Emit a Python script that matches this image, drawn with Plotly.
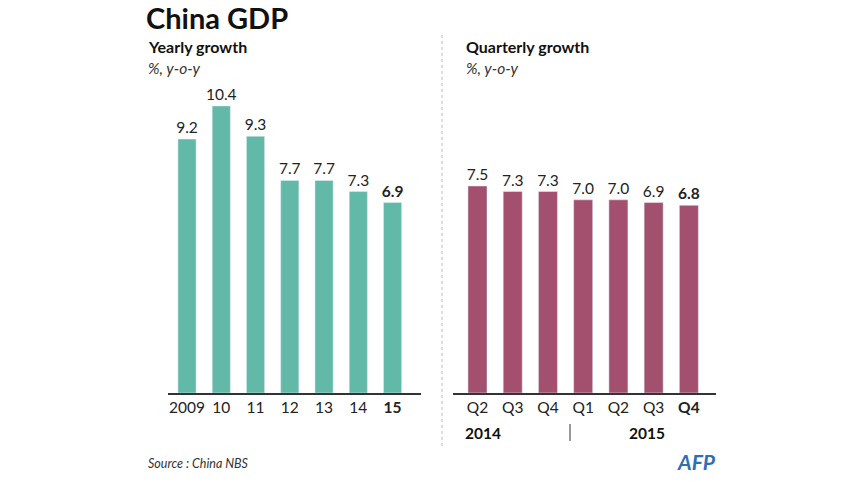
import plotly.graph_objects as go

W, H = 857, 482

years = ["2009", "10", "11", "12", "13", "14", "15"]
yearly = [9.2, 10.4, 9.3, 7.7, 7.7, 7.3, 6.9]
quarters = ["Q2", "Q3", "Q4", "Q1", "Q2", "Q3", "Q4"]
quarterly = [7.5, 7.3, 7.3, 7.0, 7.0, 6.9, 6.8]
year_groups = ["2014", "2015"]

TEAL = "#63b9a7"
MAROON = "#a3506f"
FONT = "Lato"

def px(x):
    return x / W

def py(y):
    return 1 - y / H

def bold_last(labels):
    return [f"<b>{s}</b>" if i == len(labels) - 1 else s for i, s in enumerate(labels)]

def fmt(vals):
    return bold_last([f"{v:.1f}" for v in vals])

xs = list(range(len(years)))

fig = go.Figure()
fig.add_trace(go.Bar(
    x=xs, y=yearly, marker_color=TEAL, width=0.53,
    text=fmt(yearly), textposition="outside", cliponaxis=False, constraintext="none",
    textfont=dict(family=FONT, size=15.5, color="#222"),
    xaxis="x", yaxis="y", showlegend=False, hoverinfo="skip",
))
fig.add_trace(go.Bar(
    x=xs, y=quarterly, marker_color=MAROON, width=0.54,
    text=fmt(quarterly), textposition="outside", cliponaxis=False, constraintext="none",
    textfont=dict(family=FONT, size=15.5, color="#222"),
    xaxis="x2", yaxis="y2", showlegend=False, hoverinfo="skip",
))

ybase, ytop = 393, 60
yr = [0, (ybase - ytop) / 27.6]

axis_common = dict(
    showgrid=False, zeroline=False, showline=True, linecolor="#333", linewidth=1.5,
    ticks="", tickfont=dict(family=FONT, size=15.5, color="#222"),
)

fig.update_layout(
    width=W, height=H,
    margin=dict(l=0, r=0, t=0, b=0),
    paper_bgcolor="white", plot_bgcolor="white",
    bargap=0,
    xaxis=dict(domain=[px(168), px(421)], range=[-0.555, 6.83],
               tickvals=xs, ticktext=bold_last(years), anchor="y", **axis_common),
    yaxis=dict(domain=[py(ybase), py(ytop)], range=yr, visible=False, anchor="x"),
    xaxis2=dict(domain=[px(453), px(716)], range=[-0.695, 6.77],
                tickvals=xs, ticktext=bold_last(quarters), anchor="y2", **axis_common),
    yaxis2=dict(domain=[py(ybase), py(ytop)], range=yr, visible=False, anchor="x2"),
)

ann = []
def text(x, y, s, size, **kw):
    ann.append(dict(x=px(x), y=py(y), xref="paper", yref="paper", text=s, showarrow=False,
                    xanchor=kw.pop("xanchor", "left"), yanchor=kw.pop("yanchor", "middle"),
                    font=dict(family=FONT, size=size, color=kw.pop("color", "#111")), **kw))

text(145, 18, "<b>China GDP</b>", 29, borderpad=0)
text(146, 46, "<b>Yearly growth</b>", 16)
text(146, 68, "<i>%, y-o-y</i>", 15.5, color="#333")
text(464, 46, "<b>Quarterly growth</b>", 16)
text(464, 68, "<i>%, y-o-y</i>", 15.5, color="#333")
text(483, 433, f"<b>{year_groups[0]}</b>", 15.5, xanchor="center")
text(647, 433, f"<b>{year_groups[1]}</b>", 15.5, xanchor="center")
text(146, 463, "<i>Source : China NBS</i>", 12.5, color="#333")
text(696, 461, "<b><i>AFP</i></b>", 21, xanchor="center", color="#2f6db5")
fig.update_layout(annotations=ann)

fig.update_layout(shapes=[
    dict(type="line", xref="paper", yref="paper", x0=px(442), x1=px(442), y0=py(35), y1=py(448),
         line=dict(color="#bbb", width=1, dash="dot")),
    dict(type="line", xref="paper", yref="paper", x0=px(570), x1=px(570), y0=py(424), y1=py(441),
         line=dict(color="#333", width=1)),
])

fig.write_html(
    "out.html",
    config={"displayModeBar": False, "staticPlot": True},
    post_script="document.body.style.margin='0';document.body.style.overflow='hidden';",
)
